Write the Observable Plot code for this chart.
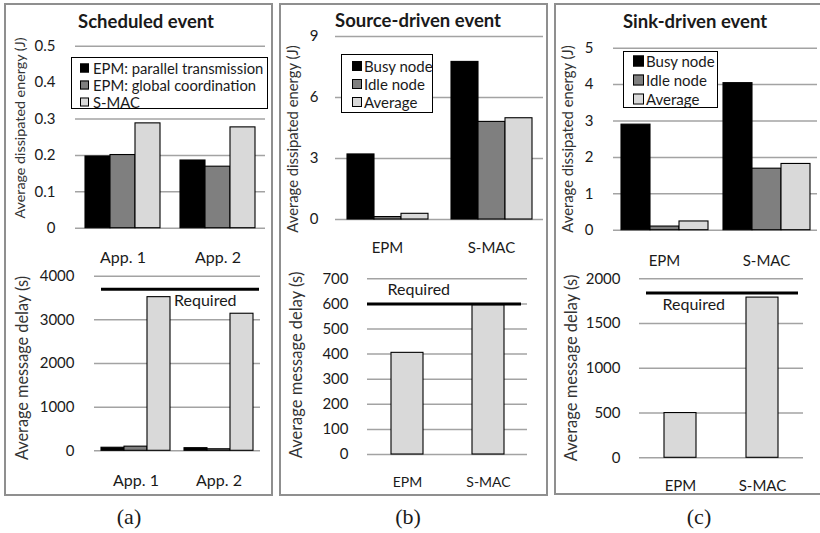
<!DOCTYPE html>
<html><head><meta charset="utf-8">
<script src="https://cdn.jsdelivr.net/npm/d3@7"></script>
<script src="https://cdn.jsdelivr.net/npm/@observablehq/plot@0.6"></script>
<style>
body{margin:0;background:#fff;}
#fig{position:relative;width:820px;height:533px;overflow:hidden;font-family:Lato,sans-serif;color:#1a1a1a;background:#fff;}
.panel{position:absolute;box-sizing:border-box;border:2px solid #8f8f8f;}
.title{position:absolute;font-weight:bold;font-size:18.5px;transform:translate(-50%,-50%);white-space:nowrap;}
.ytitle{position:absolute;transform:translate(-50%,-50%) rotate(-90deg);white-space:nowrap;color:#333;}
.tag{position:absolute;font-family:"Liberation Serif",serif;font-size:22px;transform:translate(-50%,-50%);}
.legend{position:absolute;box-sizing:border-box;border:1px solid #000;background:#fff;}
.legend .row{position:absolute;white-space:nowrap;transform:translateY(-50%);}
.legend .sw{position:absolute;box-sizing:border-box;border:1px solid #000;transform:translateY(-50%);}
.chart{position:absolute;}
.chart svg{display:block;}
</style></head><body><div id="fig"></div>
<script>
// ---------- data ----------
const panelTitles = ["Scheduled event", "Source-driven event", "Sink-driven event"];
const panelTags = ["(a)", "(b)", "(c)"];
const energyTitle = "Average dissipated energy (J)";
const delayTitle = "Average message delay (s)";
const requiredLabel = "Required";

// (a) Scheduled event
const schedGroups = ["App. 1", "App. 2"];
const schedSeries = ["EPM: parallel transmission", "EPM: global coordination", "S-MAC"];
const schedEnergyParallel = [0.197, 0.186];
const schedEnergyGlobal = [0.201, 0.169];
const schedEnergySmac = [0.288, 0.277];
const schedEnergyTicks = [0, 0.1, 0.2, 0.3, 0.4, 0.5];
const schedDelayParallel = [70, 60];
const schedDelayGlobal = [95, 35];
const schedDelaySmac = [3520, 3140];
const schedDelayTicks = [0, 1000, 2000, 3000, 4000];
const schedRequired = 3700;

// (b) Source-driven event / (c) Sink-driven event
const protoGroups = ["EPM", "S-MAC"];
const nodeSeries = ["Busy node", "Idle node", "Average"];
const sourceBusy = [3.2, 7.75];
const sourceIdle = [0.12, 4.8];
const sourceAverage = [0.28, 4.98];
const sourceEnergyTicks = [0, 3, 6, 9];
const sourceDelay = [405, 595];
const sourceDelayTicks = [0, 100, 200, 300, 400, 500, 600, 700];
const sourceRequired = 600;

const sinkBusy = [2.9, 4.04];
const sinkIdle = [0.1, 1.69];
const sinkAverage = [0.24, 1.82];
const sinkEnergyTicks = [0, 1, 2, 3, 4, 5];
const sinkDelay = [500, 1790];
const sinkDelayTicks = [0, 500, 1000, 1500, 2000];
const sinkRequired = 1840;

// ---------- styles ----------
const seriesFills = ["#000000", "#7f7f7f", "#d9d9d9"];
const delayFill = "#d9d9d9";
const gridColor = "#a3a3a3";
const tickFmt = d3.format("~g");

const fig = document.getElementById("fig");
function el(cls, css, text) {
  const d = document.createElement("div");
  d.className = cls;
  Object.assign(d.style, css);
  if (text != null) d.textContent = text;
  fig.appendChild(d);
  return d;
}
function place(svg, left, top) {
  const d = el("chart", {left: left + "px", top: top + "px"});
  d.appendChild(svg);
}
const baseStyle = {fontFamily: "Lato, sans-serif", fontSize: "15px", color: "#1a1a1a", background: "none", overflow: "visible"};

// panel borders
el("panel", {left: "4px", top: "3px", width: "269px", height: "493px"});
el("panel", {left: "279px", top: "3px", width: "269px", height: "493px"});
el("panel", {left: "554px", top: "3px", width: "280px", height: "492px"});

function groupedChart({groups, series, columns, ticks, width, height, mt, mr, mb, ml, tickPad, padOuter, fxPad, fxFont, req}) {
  const rows = groups.flatMap((g, i) => series.map((s, j) => ({group: g, series: s, value: columns[j][i]})));
  const marks = [
    Plot.gridY(ticks, {stroke: gridColor, strokeOpacity: 1, strokeWidth: 1.5}),
    Plot.axisY(ticks, {tickSize: 0, tickPadding: tickPad, fontSize: 15, tickFormat: tickFmt, label: null}),
    Plot.axisFx({anchor: "bottom", tickSize: 0, tickPadding: fxPad, fontSize: fxFont, label: null}),
    Plot.barY(rows, {fx: "group", x: "series", y: "value", fill: "series", stroke: "#000", strokeWidth: 1.1})
  ];
  if (req) {
    const reqRows = groups.map(g => ({group: g, value: req.value, label: requiredLabel}));
    marks.push(
      Plot.ruleY([reqRows[0]], {fx: "group", y: "value", stroke: "#000", strokeWidth: 3, insetLeft: req.insetLeft}),
      Plot.ruleY([reqRows[1]], {fx: "group", y: "value", stroke: "#000", strokeWidth: 3, insetRight: req.insetRight}),
      Plot.text([reqRows[0]], {fx: "group", y: "value", text: "label", frameAnchor: "right", textAnchor: "start", lineAnchor: "middle", dx: req.dx, dy: req.dy, fontSize: 16, fill: "#1a1a1a"})
    );
  }
  return Plot.plot({
    width, height, marginTop: mt, marginRight: mr, marginBottom: mb, marginLeft: ml,
    style: baseStyle,
    fx: {domain: groups, padding: 0},
    x: {domain: series, paddingInner: 0, paddingOuter: padOuter, axis: null},
    y: {domain: [ticks[0], ticks[ticks.length - 1]]},
    color: {domain: series, range: seriesFills},
    marks
  });
}

function delayChart({groups, values, ticks, width, height, mt, mr, mb, ml, tickPad, pi, po, xPad, xFont, req}) {
  const rows = groups.map((g, i) => ({group: g, value: values[i]}));
  const reqRows = [{value: req.value, label: requiredLabel}];
  return Plot.plot({
    width, height, marginTop: mt, marginRight: mr, marginBottom: mb, marginLeft: ml,
    style: baseStyle,
    x: {domain: groups, paddingInner: pi, paddingOuter: po},
    y: {domain: [ticks[0], ticks[ticks.length - 1]]},
    marks: [
      Plot.gridY(ticks, {stroke: gridColor, strokeOpacity: 1, strokeWidth: 1.5}),
      Plot.axisY(ticks, {tickSize: 0, tickPadding: tickPad, fontSize: 15, tickFormat: tickFmt, label: null}),
      Plot.axisX({tickSize: 0, tickPadding: xPad, fontSize: xFont, label: null}),
      Plot.barY(rows, {x: "group", y: "value", fill: delayFill, stroke: "#000", strokeWidth: 1.1}),
      Plot.ruleY(reqRows, {y: "value", stroke: "#000", strokeWidth: 3, insetLeft: req.insetLeft, insetRight: req.insetRight}),
      Plot.text(reqRows, {y: "value", text: "label", frameAnchor: "left", textAnchor: "start", lineAnchor: "middle", dx: req.dx, dy: req.dy, fontSize: 16, fill: "#1a1a1a"})
    ]
  });
}

// (a) top
place(groupedChart({groups: schedGroups, series: schedSeries,
  columns: [schedEnergyParallel, schedEnergyGlobal, schedEnergySmac], ticks: schedEnergyTicks,
  width: 275, height: 270, mt: 45.7, mr: 10, mb: 42.3, ml: 75, tickPad: 20, padOuter: 0.35, fxPad: 23, fxFont: 16}), 0, 0);
// (a) bottom
place(groupedChart({groups: schedGroups, series: schedSeries,
  columns: [schedDelayParallel, schedDelayGlobal, schedDelaySmac], ticks: schedDelayTicks,
  width: 275, height: 233, mt: 13.7, mr: 15, mb: 44.7, ml: 93, tickPad: 20, padOuter: 0.264, fxPad: 24, fxFont: 16,
  req: {value: schedRequired, insetLeft: 7, insetRight: 1, dx: -3.5, dy: 12}}), 0, 262);
// (b) top
place(groupedChart({groups: protoGroups, series: nodeSeries,
  columns: [sourceBusy, sourceIdle, sourceAverage], ticks: sourceEnergyTicks,
  width: 275, height: 262, mt: 36, mr: 7, mb: 43, ml: 60, tickPad: 17, padOuter: 0.41, fxPad: 23, fxFont: 15}), 275, 0);
// (b) bottom
place(delayChart({groups: protoGroups, values: sourceDelay, ticks: sourceDelayTicks,
  width: 275, height: 233, mt: 16.3, mr: 23, mb: 41, ml: 92, tickPad: 19, pi: 0.605, po: 0.29, xPad: 23, xFont: 14,
  req: {value: sourceRequired, insetLeft: 0, insetRight: 6, dx: 20, dy: -14}}), 275, 262);
// (c) top
place(groupedChart({groups: protoGroups, series: nodeSeries,
  columns: [sinkBusy, sinkIdle, sinkAverage], ticks: sinkEnergyTicks,
  width: 270, height: 270, mt: 47.7, mr: 3, mb: 40.3, ml: 63, tickPad: 20, padOuter: 0.24, fxPad: 25, fxFont: 15}), 550, 0);
// (c) bottom
place(delayChart({groups: protoGroups, values: sinkDelay, ticks: sinkDelayTicks,
  width: 270, height: 233, mt: 16.3, mr: 17, mb: 37.7, ml: 89, tickPad: 19, pi: 0.61, po: 0.305, xPad: 23, xFont: 15,
  req: {value: sinkRequired, insetLeft: 7, insetRight: 5, dx: 23, dy: 12}}), 550, 262);

// titles and tags
[[146, 21], [418, 20], [695, 21]].forEach(([x, y], i) => el("title", {left: x + "px", top: y + "px"}, panelTitles[i]));
[[129, 517], [408, 517], [699, 517]].forEach(([x, y], i) => el("tag", {left: x + "px", top: y + "px"}, panelTags[i]));
// y titles
[[19, 128, energyTitle, 14.3], [21, 368, delayTitle, 16.3],
 [292, 139, energyTitle, 14.8], [296, 365, delayTitle, 16.5],
 [567, 139, energyTitle, 14.8], [571, 368, delayTitle, 16.5]].forEach(([x, y, t, fs]) =>
  el("ytitle", {left: x + "px", top: y + "px", fontSize: fs + "px"}, t));

// legends
function legend({left, top, width, height, labels, rowCenters, swLeft, swSize, textLeft, fontSize}) {
  const box = el("legend", {left: left + "px", top: top + "px", width: width + "px", height: height + "px"});
  labels.forEach((lab, i) => {
    const sw = document.createElement("div");
    sw.className = "sw";
    Object.assign(sw.style, {left: swLeft + "px", top: rowCenters[i] + "px", width: swSize + "px", height: swSize + "px", background: seriesFills[i]});
    box.appendChild(sw);
    const r = document.createElement("div");
    r.className = "row";
    Object.assign(r.style, {left: textLeft + "px", top: rowCenters[i] + "px", fontSize: fontSize + "px"});
    r.textContent = lab;
    box.appendChild(r);
  });
}
legend({left: 71, top: 57, width: 197, height: 52, labels: schedSeries, rowCenters: [9.5, 26.5, 43.5], swLeft: 8, swSize: 9, textLeft: 21, fontSize: 14.8});
legend({left: 341, top: 54, width: 92, height: 59, labels: nodeSeries, rowCenters: [10.5, 28.5, 46.5], swLeft: 10, swSize: 10, textLeft: 22, fontSize: 15});
legend({left: 623, top: 51, width: 95, height: 57, labels: nodeSeries, rowCenters: [8.5, 27.5, 46.5], swLeft: 9, swSize: 11, textLeft: 22, fontSize: 15});
</script>
</body></html>
